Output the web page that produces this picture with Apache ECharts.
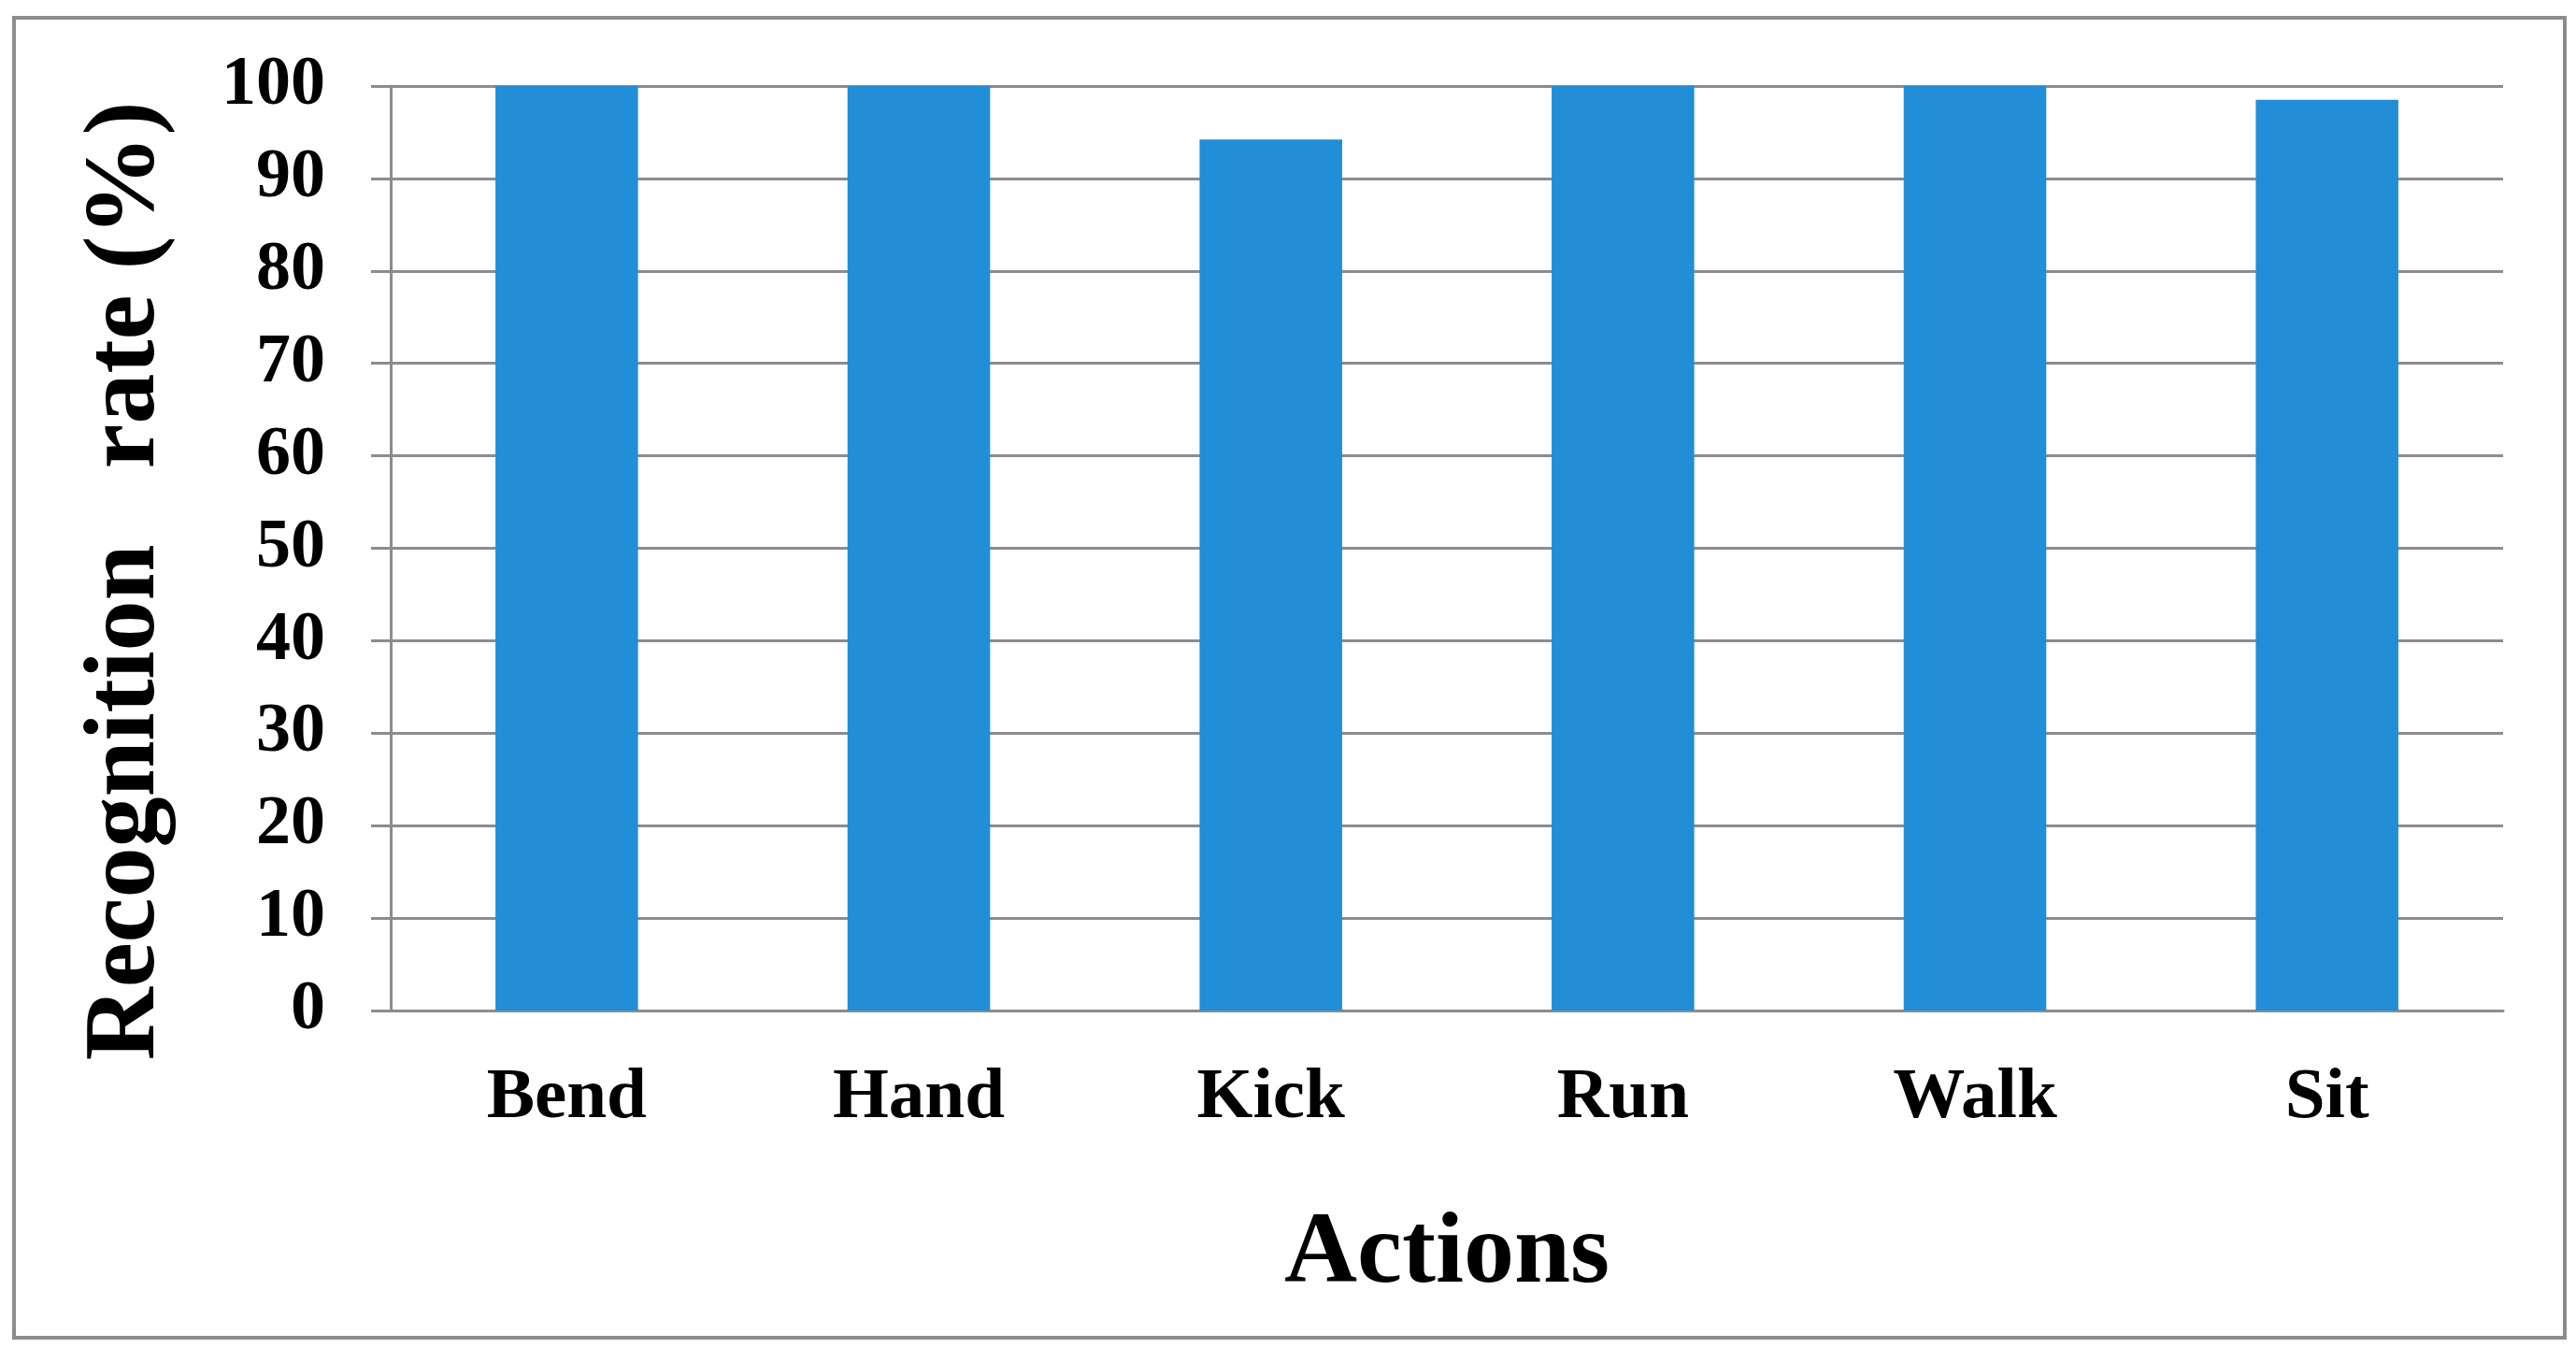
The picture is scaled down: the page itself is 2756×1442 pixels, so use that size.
<!DOCTYPE html>
<html>
<head>
<meta charset="utf-8">
<script src="https://cdn.jsdelivr.net/npm/echarts@6/dist/echarts.min.js"></script>
<style>
  html, body { margin: 0; padding: 0; background: #fff; }
  #main { width: 2756px; height: 1442px; }
</style>
</head>
<body>
<div id="main"></div>
<script>
// recognition rate per action
var actions = ['Bend', 'Hand', 'Kick', 'Run', 'Walk', 'Sit'];
var rates = [100, 100, 94.2, 100, 100, 98.5];
var yTicks = [0, 10, 20, 30, 40, 50, 60, 70, 80, 90, 100];

var serif = '"Liberation Serif", "Times New Roman", serif';
var gray = '#8c8c8c';

var myChart = echarts.init(document.getElementById('main'));
option = {
    animation: false,
    backgroundColor: '#fff',
    graphic: [{
        type: 'rect',
        shape: { x: 15, y: 19, width: 2729, height: 1412 },
        style: { fill: 'none', stroke: gray, lineWidth: 4 }
    }],
    grid: {
        left: 418,
        right: 78,
        top: 92,
        bottom: 361
    },
    xAxis: {
        type: 'category',
        data: actions,
        name: 'Actions',
        nameLocation: 'middle',
        nameGap: 208,
        nameTextStyle: {
            fontFamily: serif, fontWeight: 'bold', fontSize: 108, color: '#000'
        },
        axisLine: { lineStyle: { color: gray, width: 3 } },
        axisTick: { show: false },
        axisLabel: {
            margin: 56,
            fontFamily: serif, fontWeight: 'bold', fontSize: 77, color: '#000'
        }
    },
    yAxis: {
        type: 'value',
        min: yTicks[0],
        max: yTicks[yTicks.length - 1],
        interval: 10,
        name: 'Recognition   rate (%)',
        nameLocation: 'middle',
        nameGap: 228,
        nameTextStyle: {
            fontFamily: serif, fontWeight: 'bold', fontSize: 108, color: '#000',
            padding: [0, 70, 0, 0]
        },
        axisLine: { show: true, lineStyle: { color: gray, width: 3 } },
        axisTick: { show: true, length: 21, lineStyle: { color: gray, width: 3 } },
        splitLine: { lineStyle: { color: gray, width: 3 } },
        axisLabel: {
            margin: 70,
            fontFamily: serif, fontWeight: 'bold', fontSize: 74, color: '#000'
        }
    },
    series: [{
        type: 'bar',
        data: rates,
        barWidth: '40.5%',
        itemStyle: { color: '#218ed7' }
    }]
};
myChart.setOption(option);
</script>
</body>
</html>
